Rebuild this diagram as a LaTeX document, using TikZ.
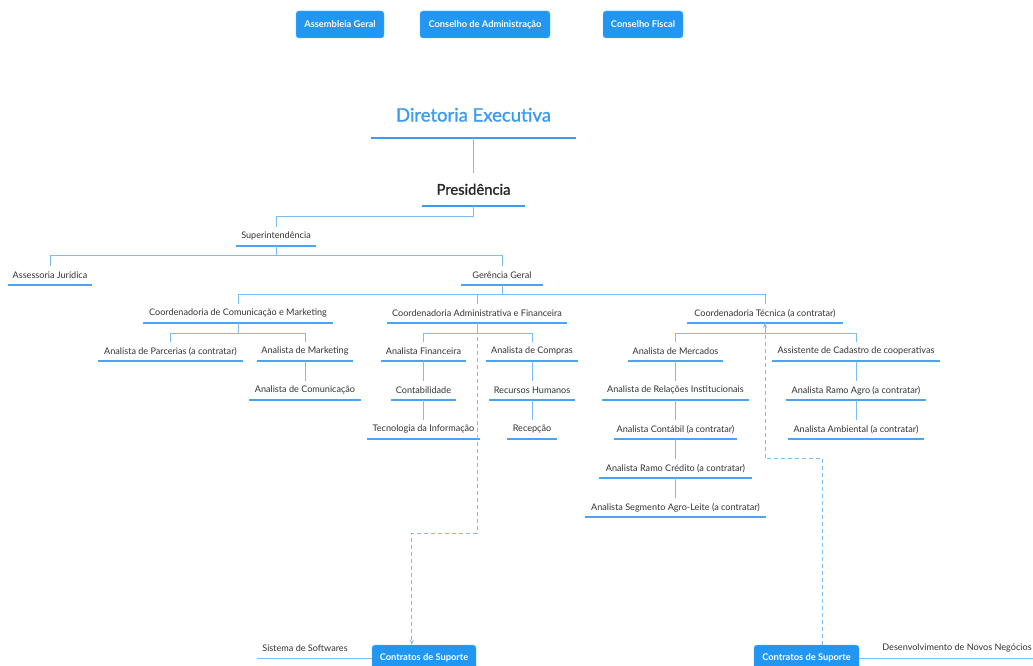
\documentclass[tikz,border=0pt]{standalone}
\usepackage{fontspec}
\setmainfont{Lato}
\newfontfamily\medfont{Lato}[FakeBold=1.2]
\usetikzlibrary{arrows.meta,calc}
\definecolor{boxblue}{HTML}{2196F3}
\definecolor{titleblue}{HTML}{3A9BF0}
\definecolor{ulblue}{HTML}{4AA4F3}
\definecolor{cnblue}{HTML}{7CBDF6}
\definecolor{txt}{HTML}{333333}
\tikzset{
  uline/.style={draw=ulblue, line width=1.3pt},
  conn/.style={draw=cnblue, line width=1pt},
  dashconn/.style={draw=cnblue, line width=1pt, dash pattern=on 4pt off 3pt, -{Stealth[length=5pt,width=4pt]}},
  lbl/.style={inner sep=0pt, minimum height=19pt, anchor=south, text=txt,
    font=\fontsize{9.1}{11}\selectfont,
    append after command={(\tikzlastnode.south west) edge[uline] (\tikzlastnode.south east)}},
  topbox/.style={fill=boxblue, draw=boxblue!70!white, rounded corners=3pt, text=white,
    font=\bfseries\fontsize{9.3}{11}\selectfont, inner sep=0pt, minimum height=27pt},
  plain/.style={inner sep=0pt, text=txt, font=\fontsize{9.1}{11}\selectfont}
}
\begin{document}
\begin{tikzpicture}[x=1pt,y=-1pt]
\useasboundingbox (0,0) rectangle (1033,666);
\clip (0,0) rectangle (1033,666);
% top boxes
\node[topbox, minimum width=88] (ag) at (340,24.5) {Assembleia Geral};
\node[topbox, minimum width=130] (ca) at (485,24.5) {Conselho de Administração};
\node[topbox, minimum width=80] (cf) at (643,24.5) {Conselho Fiscal};
% titles
\node[inner sep=0pt, minimum width=205, minimum height=46, anchor=south, text=titleblue,
  font=\medfont\fontsize{18.5}{22}\selectfont,
  append after command={(\tikzlastnode.south west) edge[draw=titleblue, line width=2.5pt] (\tikzlastnode.south east)}]
  (dir) at (473.5,138) {Diretoria Executiva};
\node[inner sep=0pt, minimum width=103, minimum height=33, anchor=south, text=black!85,
  font=\medfont\fontsize{14.8}{17}\selectfont,
  append after command={(\tikzlastnode.south west) edge[draw=titleblue, line width=2pt] (\tikzlastnode.south east)}]
  (pres) at (473.5,206) {Presidência};
\draw[conn] (dir.south) -- (pres.north);
% level nodes
\node[lbl, minimum width=80] (sup) at (276,246) {Superintendência};
\node[lbl, minimum width=84] (aj) at (50,285) {Assessoria Jurídica};
\node[lbl, minimum width=82] (gg) at (502,285) {Gerência Geral};
\node[lbl, minimum width=190] (ccm) at (238,323) {Coordenadoria de Comunicação e Marketing};
\node[lbl, minimum width=180] (caf) at (477,323) {Coordenadoria Administrativa e Financeira};
\node[lbl, minimum width=156] (ct) at (765,323) {Coordenadoria Técnica (a contratar)};
% comunicacao
\node[lbl, minimum width=145] (ap) at (170.5,361) {Analista de Parcerias (a contratar)};
\node[lbl, minimum width=96] (am) at (305,361) {Analista de Marketing};
\node[lbl, minimum width=111] (ac) at (305,400) {Analista de Comunicação};
% adm
\node[lbl, minimum width=85] (af) at (423.5,361) {Analista Financeira};
\node[lbl, minimum width=65] (cont) at (423.5,400) {Contabilidade};
\node[lbl, minimum width=113] (ti) at (423.5,439) {Tecnologia da Informação};
\node[lbl, minimum width=92] (acp) at (532,361) {Analista de Compras};
\node[lbl, minimum width=85] (rh) at (532,400) {Recursos Humanos};
\node[lbl, minimum width=49] (rec) at (532,439) {Recepção};
% tecnica
\node[lbl, minimum width=95] (amer) at (675.5,361) {Analista de Mercados};
\node[lbl, minimum width=146] (ari) at (675.5,400) {Analista de Relações Institucionais};
\node[lbl, minimum width=123] (acont) at (675.5,439) {Analista Contábil (a contratar)};
\node[lbl, minimum width=152] (arc) at (675.5,478) {Analista Ramo Crédito (a contratar)};
\node[lbl, minimum width=181] (asag) at (675.5,517) {Analista Segmento Agro-Leite (a contratar)};
\node[lbl, minimum width=168] (acad) at (856,361) {Assistente de Cadastro de cooperativas};
\node[lbl, minimum width=140] (arag) at (856,400) {Analista Ramo Agro (a contratar)};
\node[lbl, minimum width=136] (aamb) at (856,439) {Analista Ambiental (a contratar)};
% connectors
\draw[conn] (pres.south) -- ++(0,10) -| (sup.north);
\draw[conn] (sup.south) -- ++(0,9) -| (aj.north);
\draw[conn] (sup.south) -- ++(0,9) -| (gg.north);
\draw[conn] (gg.south) -- ++(0,9) -| (ccm.north);
\draw[conn] (gg.south) -- ++(0,9) -| (caf.north);
\draw[conn] (gg.south) -- ++(0,9) -| (ct.north);
\draw[conn] (ccm.south) -- ++(0,10) -| (ap.north);
\draw[conn] (ccm.south) -- ++(0,10) -| (am.north);
\draw[conn] (am.south) -- (ac.north);
\draw[conn] (caf.south) -- ++(0,10) -| (af.north);
\draw[conn] (caf.south) -- ++(0,10) -| (acp.north);
\draw[conn] (af.south) -- (cont.north);
\draw[conn] (cont.south) -- (ti.north);
\draw[conn] (acp.south) -- (rh.north);
\draw[conn] (rh.south) -- (rec.north);
\draw[conn] (ct.south) -- ++(0,10) -| (amer.north);
\draw[conn] (ct.south) -- ++(0,10) -| (acad.north);
\draw[conn] (amer.south) -- (ari.north);
\draw[conn] (ari.south) -- (acont.north);
\draw[conn] (acont.south) -- (arc.north);
\draw[conn] (arc.south) -- (asag.north);
\draw[conn] (acad.south) -- (arag.north);
\draw[conn] (arag.south) -- (aamb.north);
% bottom boxes
\node[topbox, minimum width=104, minimum height=26] (box1) at (424,658) {Contratos de Suporte};
\node[topbox, minimum width=105, minimum height=26] (box2) at (806.5,658) {Contratos de Suporte};
\coordinate (sisend) at (257,658);
\coordinate (desend) at (1033,658);
\draw[conn] (box1.west) -- (sisend);
\draw[conn] (box2.east) -- (desend);
\node[plain] (sis) at (305,648) {Sistema de Softwares};
\node[plain] (des) at (957,648) {Desenvolvimento de Novos Negócios};
% dashed
\draw[dashconn] (caf.south) -- ++(0,210) -| ($(box1.north west)+(40,0)$);
\draw[dashconn] ($(box2.north west)+(69,0)$) -- ++(0,-186) -| (ct.south);
\end{tikzpicture}
\end{document}
